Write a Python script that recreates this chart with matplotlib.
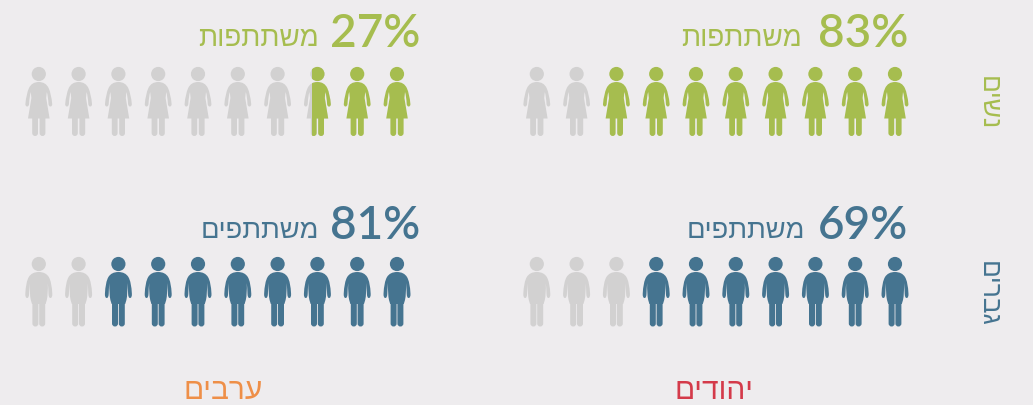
import matplotlib
matplotlib.use("Agg")
import matplotlib.pyplot as plt
from matplotlib.patches import PathPatch, Rectangle
from matplotlib.path import Path
from matplotlib.transforms import Affine2D

# data
GROUPS = ["יהודים", "ערבים"]  # columns, right to left
GENDERS = ["נשים", "גברים"]  # rows, top to bottom
PERCENT = {"נשים": [83, 27], "גברים": [69, 81]}
FILLED_ICONS = {"נשים": [8, 2.7], "גברים": [7, 8]}  # coloured icons out of 10, from the right
WORDS = {"נשים": "משתתפות", "גברים": "משתתפים"}
N_ICONS = 10

BG = "#EEECEE"
GREY = "#D2D1D1"
ROW_COLORS = {"נשים": "#A6BD4F", "גברים": "#457490"}
COL_COLORS = {"יהודים": "#D43A4A", "ערבים": "#EE8F48"}

LATIN_FONT = ["Lato", "DejaVu Sans"]
HEB_FONT = ["Liberation Sans", "DejaVu Sans"]

# layout in pixels
COL_RIGHT = {"יהודים": 895, "ערבים": 397}  # centre of the rightmost icon
COL_LABEL_X = {"יהודים": 714, "ערבים": 223}
PCT_RIGHT = {"יהודים": 908, "ערבים": 420}
WORD_RIGHT = {"יהודים": {"נשים": 802, "גברים": 805}, "ערבים": {"נשים": 319, "גברים": 319}}
ROW_HEAD_Y = {"נשים": 75, "גברים": 265}
ROW_BASE_Y = {"נשים": 47, "גברים": 239}
ROW_LABEL_Y = {"נשים": 103, "גברים": 294}
SPACING = 39.8

M, C = Path.MOVETO, Path.CURVE3
L = Path.LINETO


def mirrored(verts, codes):
    # close a right hand half outline with its mirror image
    back = [(-x, y) for x, y in verts[::-1]]
    new_codes = []
    for code in codes[:0:-1]:
        new_codes.append(code)
    return Path(list(verts) + back[1:], list(codes) + new_codes)


def head():
    return Path.circle((0, 0), 7.1)


def leg(x0, x1, top, bottom):
    mid = (x0 + x1) / 2
    return Path([(x0, top), (x1, top), (x1, bottom - 3), (x1, bottom), (mid, bottom),
                 (x0, bottom), (x0, bottom - 3), (x0, top)],
                [M, L, L, C, C, C, C, L])


def woman():
    body = mirrored(
        [(0, 8), (7, 8), (9.8, 14), (12.6, 20), (13.4, 30), (13.6, 32.5), (11.6, 32.5),
         (9.9, 32.5), (9.7, 30), (9.3, 22), (8, 18), (7.4, 24), (10.8, 44.5), (0, 44.5)],
        [M, C, C, C, C, C, C, C, C, C, C, L, L, L])
    return [head(), body, leg(0.8, 6.6, 43, 62), leg(-6.6, -0.8, 43, 62)]


def man():
    body = mirrored(
        [(0, 8), (7, 8), (10, 13), (13, 18), (13.5, 30), (13.6, 34), (11.6, 34),
         (9.9, 34), (9.7, 30), (9.6, 24), (9, 19), (9.4, 30), (8, 36), (6.8, 40), (0, 40)],
        [M, C, C, C, C, C, C, C, C, C, C, C, C, L, L])
    return [head(), body, leg(0.4, 6.4, 36, 62.5), leg(-6.4, -0.4, 36, 62.5)]


fig = plt.figure(figsize=(10.33, 4.06), dpi=100, facecolor=BG)
ax = fig.add_axes([0, 0, 1, 1])
ax.set_xlim(0, 1033)
ax.set_ylim(406, 0)
ax.axis("off")


def draw_icon(parts, x, y, color, clip=None):
    for part in parts:
        patch = PathPatch(part, facecolor=color, edgecolor="none",
                          transform=Affine2D().translate(x, y) + ax.transData)
        ax.add_patch(patch)
        if clip is not None:
            patch.set_clip_path(clip)


for gender in GENDERS:
    parts = woman() if gender == "נשים" else man()
    color = ROW_COLORS[gender]
    y = ROW_HEAD_Y[gender]
    base = ROW_BASE_Y[gender]
    for c, group in enumerate(GROUPS):
        right = COL_RIGHT[group]
        filled = FILLED_ICONS[gender][c]
        for i in range(N_ICONS):
            x = right - i * SPACING
            share = min(max(filled - i, 0), 1)
            draw_icon(parts, x, y, GREY if share < 1 else color)
            if 0 < share < 1:
                # partly filled icon, coloured from the right
                box = Rectangle((x + 14 - 28 * share, y - 10), 28 * share, 80,
                                transform=ax.transData)
                draw_icon(parts, x, y, color, clip=box)

        ax.text(PCT_RIGHT[group], base, "%d%%" % PERCENT[gender][c], color=color, ha="right", va="baseline",
                fontsize=33, fontweight="semibold", family=LATIN_FONT)
        ax.text(WORD_RIGHT[group][gender], base - 1, WORDS[gender][::-1], color=color, ha="right",
                va="baseline", fontsize=20 if gender == "נשים" else 19.6, family=HEB_FONT)

    ax.text(988, ROW_LABEL_Y[gender], gender[::-1], color=color, rotation=270, ha="center", va="center",
            fontsize=19, family=HEB_FONT)

for group in GROUPS:
    ax.text(COL_LABEL_X[group], 399, group[::-1], color=COL_COLORS[group], ha="center", va="baseline",
            fontsize=21.5, family=HEB_FONT)

fig.savefig("out.png", dpi=100, facecolor=BG)
